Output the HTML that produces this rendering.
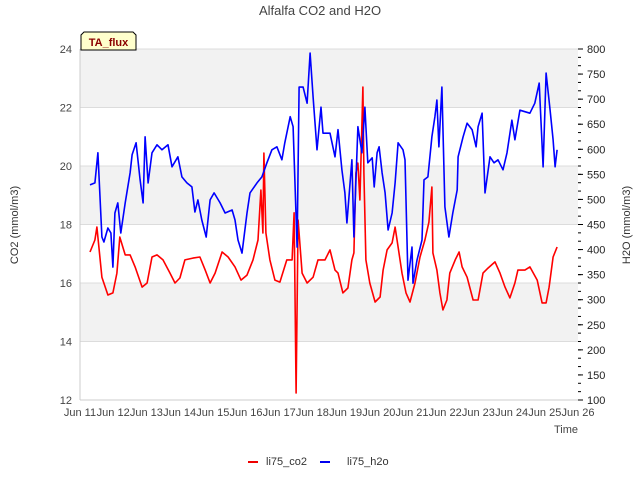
<!DOCTYPE html>
<html><head><meta charset="utf-8"><style>
body{margin:0;background:#fff;}
svg{display:block;font-family:"Liberation Sans","DejaVu Sans",sans-serif;}
</style></head><body>
<svg id="chart" width="640" height="480" viewBox="0 0 640 480">
<text x="320" y="15" text-anchor="middle" font-size="13" fill="#444">Alfalfa CO2 and H2O</text>
<g id="bands"></g>
<g id="grid"></g>
<g id="series"></g>
<g id="axes"></g>
<text transform="translate(18,225) rotate(-90)" text-anchor="middle" font-size="11" fill="#333">CO2 (mmol/m3)</text>
<text transform="translate(630,225) rotate(-90)" text-anchor="middle" font-size="11" fill="#333">H2O (mmol/m3)</text>
<text x="578" y="433" text-anchor="end" font-size="11" fill="#444">Time</text>
<g>
<path d="M81,50 L81,35 L84,32 L133,32 L136,35 L136,50 Z" fill="#ffffcc" stroke="#000" stroke-width="1"/>
<text x="108.5" y="46" text-anchor="middle" font-size="11" font-weight="bold" fill="#8b0000">TA_flux</text>
</g>
<g>
<g>
<line x1="248" y1="462" x2="258" y2="462" stroke="#e00" stroke-width="2"/>
<text x="266" y="465" font-size="11" fill="#333">li75_co2</text></g>
<g>
<line x1="320" y1="462" x2="330" y2="462" stroke="#00e" stroke-width="2"/>
<text x="347" y="465" font-size="11" fill="#333">li75_h2o</text></g>
</g>
</svg>
<script>
const xTickLabels=["Jun 11","Jun 12","Jun 13","Jun 14","Jun 15","Jun 16","Jun 17","Jun 18","Jun 19","Jun 20","Jun 21","Jun 22","Jun 23","Jun 24","Jun 25","Jun 26"];
const yTicks=[12,14,16,18,20,22,24];
const y2Ticks=[100,150,200,250,300,350,400,450,500,550,600,650,700,750,800];
// times: days after Jun 11 00:00
const h2oTimes=[0.30,0.45,0.54,0.66,0.72,0.84,0.93,0.99,1.05,1.14,1.23,1.36,1.51,1.57,1.69,1.81,1.90,1.96,2.05,2.17,2.32,2.47,2.65,2.77,2.95,3.07,3.22,3.37,3.46,3.55,3.67,3.80,3.92,4.04,4.22,4.37,4.58,4.67,4.76,4.88,5.03,5.12,5.33,5.48,5.63,5.78,5.93,6.08,6.17,6.33,6.42,6.54,6.60,6.72,6.84,6.93,7.02,7.14,7.26,7.32,7.47,7.53,7.68,7.77,7.89,7.98,8.04,8.19,8.25,8.37,8.49,8.58,8.67,8.80,8.86,8.95,9.01,9.10,9.19,9.28,9.40,9.49,9.58,9.73,9.79,9.88,10.00,10.03,10.15,10.30,10.36,10.48,10.60,10.69,10.75,10.81,10.90,10.99,11.11,11.23,11.36,11.39,11.54,11.66,11.81,11.93,11.99,12.11,12.20,12.35,12.47,12.59,12.74,12.86,13.01,13.10,13.25,13.55,13.70,13.83,13.95,14.04,14.16,14.25,14.31,14.37];
const h2oValues=[529,533,593,425,415,443,433,365,473,493,433,493,553,589,613,539,493,625,533,593,609,599,609,565,585,545,533,525,475,499,459,425,499,513,493,473,479,459,419,393,473,513,533,545,573,599,605,579,613,665,645,405,724,724,692,792,704,599,684,632,632,632,585,639,559,513,453,579,425,645,593,684,573,583,525,593,605,553,513,439,473,533,613,599,579,339,405,333,379,419,539,545,625,665,698,605,724,485,425,473,519,585,625,652,639,605,645,672,513,585,573,579,559,593,658,619,678,672,692,732,565,752,678,619,565,599];
const co2Times=[0.30,0.45,0.51,0.66,0.84,0.99,1.11,1.20,1.36,1.51,1.66,1.87,2.02,2.17,2.32,2.50,2.71,2.86,3.01,3.16,3.40,3.61,3.77,3.92,4.07,4.28,4.46,4.67,4.85,5.03,5.21,5.36,5.45,5.51,5.54,5.60,5.72,5.87,6.02,6.23,6.39,6.45,6.51,6.57,6.69,6.84,7.02,7.17,7.38,7.53,7.68,7.77,7.92,8.07,8.19,8.25,8.31,8.37,8.43,8.52,8.55,8.61,8.73,8.89,9.04,9.13,9.25,9.40,9.49,9.58,9.70,9.82,9.94,10.09,10.24,10.39,10.51,10.60,10.63,10.75,10.84,10.93,11.05,11.14,11.30,11.42,11.51,11.66,11.84,11.99,12.14,12.29,12.50,12.65,12.80,12.95,13.10,13.19,13.40,13.55,13.77,13.92,14.04,14.13,14.25,14.37];
const co2Values=[17.06,17.47,17.91,16.2,15.59,15.66,16.34,17.57,16.96,16.96,16.55,15.86,16.0,16.89,16.96,16.79,16.34,16.0,16.17,16.79,16.85,16.89,16.44,16.0,16.34,17.06,16.89,16.55,16.1,16.27,16.79,17.47,19.18,17.71,20.44,17.71,16.79,16.1,16.03,16.79,16.79,18.4,12.24,18.15,16.34,16.0,16.2,16.79,16.79,17.13,16.44,16.34,15.66,15.83,16.79,17.03,19.76,20.1,18.84,22.7,19.76,16.79,16.0,15.35,15.52,16.44,17.13,17.37,17.91,17.23,16.34,15.66,15.35,16.0,16.89,17.47,18.08,19.28,17.03,16.44,15.66,15.08,15.42,16.34,16.79,17.06,16.55,16.2,15.42,15.42,16.34,16.51,16.72,16.34,15.86,15.49,16.0,16.44,16.44,16.55,16.1,15.32,15.32,15.86,16.89,17.23];

const NS="http://www.w3.org/2000/svg";
const L=80,R=578,T=49,B=400;
const xDays=15;
const xS=t=>L+(t/xDays)*(R-L);
const yS=v=>B-(v-12)/(24-12)*(B-T);
const y2S=v=>B-(v-100)/(800-100)*(B-T);
function mk(tag,attrs,parent){const e=document.createElementNS(NS,tag);for(const k in attrs)e.setAttribute(k,attrs[k]);parent.appendChild(e);return e;}
const bands=document.getElementById('bands'),grid=document.getElementById('grid'),axes=document.getElementById('axes'),series=document.getElementById('series');
for(let i=0;i<yTicks.length-1;i++){
  if(i%2===1){const r=mk('rect',{x:L,y:yS(yTicks[i+1]),width:R-L,height:yS(yTicks[i])-yS(yTicks[i+1]),fill:'#f2f2f2'},bands);
  
  }
}
yTicks.forEach(v=>{
  const g=mk('line',{x1:L,x2:R,y1:yS(v),y2:yS(v),stroke:'#dcdcdc','stroke-width':1},grid);
  
  
  const t=mk('text',{x:72,y:yS(v)+4,'text-anchor':'end','font-size':11,fill:'#444'},axes);
  t.textContent=v;
  
  
});
mk('line',{x1:L,x2:L,y1:T,y2:B,stroke:'#ccc'},axes);
mk('line',{x1:L,x2:R,y1:B,y2:B,stroke:'#ccc'},axes);
xTickLabels.forEach((s,i)=>{
  const t=mk('text',{x:xS(i),y:416,'text-anchor':'middle','font-size':11,fill:'#444'},axes);
  t.textContent=s;
  
  
});
y2Ticks.forEach(v=>{
  mk('line',{x1:R,x2:R+5,y1:y2S(v),y2:y2S(v),stroke:'#000'},axes);
  const t=mk('text',{x:587,y:y2S(v)+4,'font-size':11,fill:'#222'},axes);
  t.textContent=v;
  
  
});
for(let i=0;i<=42;i++){const y=B-i*(B-T)/42;mk('line',{x1:R,x2:R+3,y1:y,y2:y,stroke:'#000'},axes);}
function path(times,vals,sc,color,name){
  const d=times.map((t,i)=>(i?'L':'M')+xS(t).toFixed(1)+','+sc(vals[i]).toFixed(1)).join('');
  const p=mk('path',{d:d,fill:'none',stroke:color,'stroke-width':1.6,'stroke-linejoin':'round'},series);
  
  
}
path(co2Times,co2Values,yS,'#f00','co2-line');
path(h2oTimes,h2oValues,y2S,'#00f','h2o-line');
</script>
</body></html>
